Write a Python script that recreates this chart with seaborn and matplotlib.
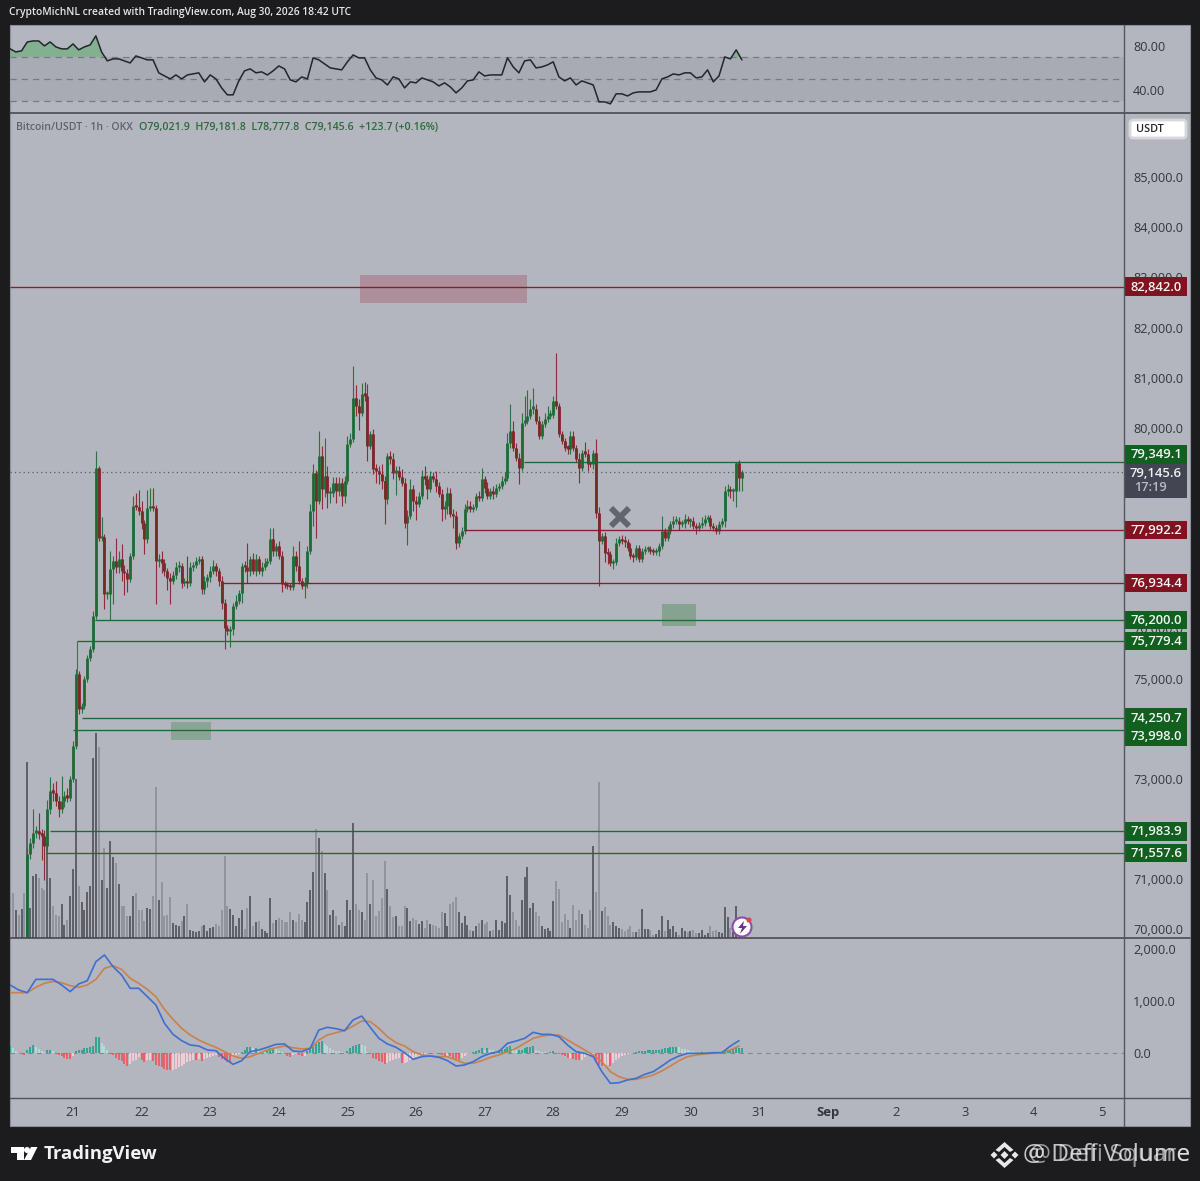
import numpy as np
import pandas as pd
import seaborn as sns
import matplotlib
matplotlib.use('Agg')
import matplotlib.pyplot as plt
from matplotlib.patches import Rectangle, Circle, Polygon, FancyBboxPatch
from matplotlib.transforms import ScaledTranslation

# 1h candles, first visible one starts 16 hours before the 21st
first_candle_hour = -16
close_prices = [
    71540, 71760, 71960, 72000, 71940, 71900, 71700, 72440, 72800, 72760,
    72600, 72440, 72600, 72700, 72660, 73020, 73690, 75120, 74420, 74480,
    75020, 75440, 75620, 76280, 79230, 77830, 77850, 76710, 76720, 77210,
    77370, 77250, 77410, 77170, 77130, 77010, 77470, 78470, 78450, 78370,
    78130, 77810, 78430, 78470, 78430, 77370, 77410, 77330, 77170, 77030,
    76970, 77090, 77250, 77270, 76930, 76970, 76930, 77250, 77290, 77370,
    77410, 76810, 76970, 77050, 77170, 77270, 77170, 76970, 76530, 76030,
    75970, 76010, 76470, 76570, 76730, 77270, 77250, 77170, 77410, 77170,
    77410, 77170, 77250, 77330, 77370, 77810, 77570, 77670, 77470, 76910,
    76890, 76870, 76850, 77470, 77270, 76970, 76870, 76930, 77570, 78370,
    79130, 78570, 79470, 78810, 79070, 78730, 78740, 78930, 78770, 78930,
    78670, 78970, 79710, 79810, 80630, 80470, 80330, 80710, 80670, 79670,
    79910, 79210, 79170, 79110, 78970, 78610, 79470, 79410, 79130, 79170,
    79050, 78930, 78130, 78270, 78810, 78570, 78510, 78670, 79070, 79010,
    78810, 79070, 79010, 78870, 78710, 78410, 78470, 78730, 78310, 78270,
    77730, 77870, 77970, 78410, 78470, 78410, 78450, 78670, 78630, 79010,
    78830, 78670, 78770, 78710, 78830, 78870, 78970, 79030, 79730, 79970,
    79630, 79430, 79230, 80130, 80170, 80270, 80410, 80410, 80170, 79870,
    80110, 80210, 80270, 80290, 80570, 80470, 79910, 79770, 79630, 79610,
    79870, 79630, 79410, 79230, 79530, 79510, 79310, 79300, 79530, 78330,
    77770, 77870, 77530, 77510, 77330, 77350, 77730, 77810, 77770, 77750,
    77630, 77470, 77450, 77630, 77410, 77570, 77610, 77620, 77570, 77550,
    77570, 77670, 77970, 77830, 77970, 78110, 78170, 78180, 78110, 78130,
    78210, 78170, 78170, 78070, 78030, 78090, 78130, 78210, 78230, 78070,
    78030, 77970, 78110, 78170, 78770, 78810, 78770, 78780, 79330, 79021.9,
    79145.6]
open_first = 69500
upper_wicks = [
    120, 100, 480, 100, 360, 100, 120, 180, 260, 140,
    220, 100, 480, 100, 160, 60, 100, 100, 60, 60,
    60, 60, 60, 100, 340, 40, 400, 60, 60, 360,
    100, 460, 160, 300, 120, 80, 60, 200, 260, 340,
    200, 60, 360, 360, 360, 60, 100, 160, 80, 60,
    100, 80, 100, 100, 60, 60, 500, 100, 60, 80,
    60, 60, 100, 60, 100, 120, 60, 60, 100, 80,
    60, 60, 60, 120, 60, 60, 100, 480, 60, 120,
    100, 60, 100, 100, 60, 220, 220, 60, 100, 100,
    60, 60, 60, 200, 100, 500, 60, 120, 100, 140,
    180, 60, 500, 200, 760, 200, 120, 120, 120, 120,
    100, 100, 160, 120, 640, 260, 140, 220, 240, 240,
    60, 100, 100, 100, 200, 100, 60, 100, 120, 100,
    100, 160, 100, 120, 200, 80, 100, 80, 120, 200,
    80, 100, 80, 160, 80, 100, 100, 120, 100, 100,
    100, 60, 80, 100, 120, 100, 60, 60, 100, 220,
    60, 120, 60, 100, 80, 60, 100, 120, 200, 540,
    200, 100, 100, 200, 500, 520, 200, 420, 100, 100,
    60, 120, 200, 100, 100, 960, 60, 60, 60, 60,
    100, 100, 60, 120, 60, 220, 100, 60, 60, 280,
    120, 60, 80, 100, 60, 60, 100, 60, 80, 100,
    60, 100, 60, 60, 60, 60, 60, 60, 60, 60,
    60, 60, 300, 60, 100, 60, 100, 100, 80, 60,
    100, 60, 60, 80, 60, 60, 120, 80, 60, 60,
    60, 60, 60, 60, 100, 100, 60, 60, 20, 60,
    36]
lower_wicks = [
    0, 100, 100, 100, 100, 480, 680, 80, 100, 160,
    100, 160, 80, 120, 80, 60, 60, 60, 100, 80,
    60, 60, 60, 60, 60, 60, 60, 300, 100, 520,
    700, 120, 120, 200, 440, 260, 60, 60, 60, 80,
    120, 300, 80, 60, 60, 860, 120, 200, 100, 240,
    460, 60, 80, 100, 100, 60, 100, 60, 80, 60,
    60, 100, 100, 120, 100, 60, 100, 100, 120, 400,
    60, 300, 100, 60, 60, 200, 100, 240, 100, 60,
    100, 60, 100, 60, 60, 60, 100, 100, 60, 160,
    60, 60, 60, 60, 100, 60, 60, 240, 100, 60,
    300, 740, 60, 400, 160, 300, 200, 80, 240, 100,
    200, 140, 60, 60, 60, 200, 340, 60, 100, 300,
    60, 100, 240, 200, 160, 500, 100, 100, 120, 440,
    60, 60, 100, 440, 60, 200, 320, 60, 60, 120,
    200, 60, 60, 120, 60, 240, 200, 160, 60, 240,
    120, 80, 60, 60, 60, 60, 60, 60, 60, 60,
    100, 60, 60, 100, 60, 60, 60, 60, 60, 100,
    60, 60, 320, 60, 60, 60, 60, 100, 60, 60,
    60, 60, 60, 60, 60, 60, 60, 60, 60, 100,
    100, 60, 60, 300, 60, 60, 140, 60, 100, 100,
    900, 60, 180, 200, 60, 120, 60, 60, 60, 100,
    60, 60, 100, 60, 60, 60, 60, 60, 60, 60,
    60, 100, 60, 60, 60, 60, 80, 60, 120, 60,
    100, 60, 120, 60, 120, 60, 60, 60, 60, 60,
    60, 60, 60, 60, 120, 100, 140, 200, 320, 260,
    244]

# volume, rsi and macd start 6 hours earlier than the visible candles
first_hour = -22
volumes = [
    40, 45, 28, 23, 29, 45, 176, 30, 62, 64, 60,
    50, 48, 95, 60, 32, 23, 22, 34, 13, 18,
    42, 69, 159, 52, 36, 28, 46, 52, 180, 205,
    191, 58, 90, 50, 97, 81, 75, 54, 32, 32,
    22, 22, 42, 45, 28, 28, 17, 30, 29, 42,
    151, 38, 56, 22, 23, 41, 15, 13, 12, 17,
    22, 34, 8, 7, 6, 7, 12, 13, 7, 10,
    11, 14, 12, 28, 82, 32, 29, 23, 12, 20,
    28, 9, 30, 42, 12, 16, 17, 9, 7, 5,
    40, 15, 18, 20, 18, 16, 16, 26, 18, 16,
    24, 18, 16, 36, 48, 66, 109, 100, 87, 65,
    48, 23, 28, 22, 13, 16, 12, 38, 28, 115,
    34, 28, 26, 18, 65, 34, 58, 22, 27, 40,
    77, 49, 32, 21, 22, 12,
    12, 32, 30, 17, 20, 18, 14, 17, 10, 18,
    14, 13, 12, 10, 26, 25, 12, 34, 36, 41,
    26, 15, 22, 13, 8, 7, 12, 15, 18, 14,
    16, 7, 8, 18, 8, 17, 15, 62, 43, 26,
    18, 12, 38, 61, 71, 30, 35, 26, 22, 12,
    9, 10, 7, 37, 57, 49, 16, 24, 18, 10,
    33, 18, 28, 24, 13, 10, 28, 92, 46, 156,
    27, 31, 22, 13, 16, 12, 10, 9, 7, 9,
    12, 6, 6, 9, 29, 9, 9, 8, 3, 4,
    8, 22, 7, 18, 9, 12, 6, 3, 10, 7,
    6, 7, 8, 5, 5, 8, 3, 5, 12, 7,
    8, 6, 5, 31, 21, 10, 6, 32, 8, 5]
early_volume_up = [False, False, True, False, True, False]

# rsi every 2 hours
rsi_values = [
    77.3, 74.5, 75.5, 83.6, 84.5, 84.5, 80, 83.6, 79.1, 77.3,
    77.3, 81.8, 76.4, 79.1, 80.9, 89.1, 74.5, 66.4, 68.2, 68.2,
    66.4, 64.5, 70.9, 69.1, 67.3, 67.3, 55.5, 52.7, 50, 53.6,
    50, 53.6, 54.5, 55.5, 47.3, 53.6, 50, 41.8, 35.5, 35.5,
    48.2, 57.3, 59.1, 55.5, 56.4, 53.6, 57.3, 61.8, 59.1, 49.1,
    47.3, 51.8, 50, 69.1, 67.3, 63.6, 60, 59.1, 58.2, 65.5,
    71.8, 69.1, 69.1, 58.2, 50.9, 49.1, 44.5, 51.8, 50, 41.8,
    47.3, 46.4, 50.9, 49.1, 47.3, 43.6, 46.4, 42.7, 37.3, 41.8,
    48.2, 49.1, 56.4, 52.7, 53.6, 53.6, 53.6, 69.1, 60.9, 55.5,
    66.4, 67.3, 60, 60.9, 62.7, 65.5, 51.8, 48.2, 50.9, 44.5,
    48.2, 46.4, 44.5, 29.1, 29.1, 27.3, 36.4, 36.4, 34.5, 37.3,
    38.2, 38.2, 38.2, 40, 50, 51.8, 54.5, 53.6, 55.5, 55.5,
    50.9, 51.8, 58.2, 47.3, 52.7, 70, 68.2, 76.4, 67.3]

# macd and signal every 3 hours
macd_line = [
    1306, 1210, 1158, 1414, 1414, 1414, 1306, 1178, 1325, 1389,
    1754, 1882, 1658, 1498, 1242, 1242, 1082, 922, 570, 358,
    237, 154, 134, 58, 45, -102, -218, -147, 26, 58,
    109, 166, 173, 38, 26, 90, 442, 493, 467, 429,
    634, 710, 493, 282, 173, 109,
    6, -122, -70, -58, -83, -147, -250, -230, -166, -70,
    -6, 26, 186, 230, 282, 397, 358, 358, 314, 154,
    26, -6, -70, -358, -582, -570, -518, -486, -410, -358,
    -250, -134, -58, -6, -6, -6, 6, 6, 134, 237]
signal_line = [
    1158, 1158, 1158, 1261, 1338, 1376, 1350, 1293, 1261, 1306,
    1414, 1626, 1677, 1606, 1434, 1338, 1222, 1082, 838, 646,
    474, 346, 250, 173, 109, 26, -58, -102, -70, -6,
    58, 102, 134, 102, 77, 90, 250, 346, 390, 429,
    518, 614, 602, 474, 314, 198,
    134, 26, -38, -58, -70, -70, -134, -198, -198, -147,
    -83, -38, 26, 90, 186, 282, 326, 346, 346, 250,
    154, 58, -38, -166, -358, -454, -506, -506, -467, -422,
    -346, -250, -147, -70, -38, -19, -6, 6, 58, 134]

# histogram hourly, in steps of 6.4
hist_steps = [
    20, 15, 7, -1, -4, -6, 10, 18, 24, 18,
    12, 6, 3, 8, 10, 5, -2, -6, -10, -14,
    -17, -19, -8, 7, 8, 10, 14, 15, 17, 20,
    47, 47, 30, 20, 8, -2, -5, -14, -20, -25,
    -32, -38, -33, -25, -20, -12, -20, -28, -22, -20,
    -25, -35, -38, -42, -48, -51, -52, -50, -47, -42,
    -38, -33, -28, -24, -20, -22, -18, -24, -18, -14,
    -12, -8, -5, -12, -18, -22, -28, -30, -12, -6,
    -2, 3, 10, 18, 18, 15, 15, 8, 5, 4,
    8, 15, 15, 12, 5, 2, -2, -8, -12, -6,
    -3, -5, -8, -8, 6, 14, 22, 28, 33, 36,
    28, 22, 15, 10, 6, 5, 3, 1, 6, 14,
    20, 24, 26, 24, 20, 4, -2, -15, -18, -24,
    -28, -32, -30, -25, -20, -18, -14,
    -30, -30, -28, -22, -18, -12, -8, -4, -2, -1,
    -1, 1, 1, -4, -6, -8, -8, -10, -14, -18,
    -20, -16, -10, -4, 1, 4, 6, 8, 14, 8,
    16, 10, 8, 7, 8, 10, 13, 17, 20, 15,
    10, 10, 10, 14, 18, 18, 20, 10, 6, 4,
    3, 1, 2, 5, 1, -2, -5, -10, -15, -15,
    -18, -20, -22, -22, -12, -8, -6, -5, -28, -35,
    -38, -38, -36, -38, -30, -22, -14, -8, -5, -2,
    1, 1, 3, 5, 6, 7, 8, 9, 9, 9,
    10, 11, 14, 15, 17, 17, 18, 17, 13, 12,
    10, 7, 5, 3, 2, 2, 1, 1, 0, -1,
    -1, -1, -1, 3, 8, 10, 11, 14, 15, 16]

# horizontal levels: price, start day, colour name, where the axis tag sits
level_prices = [82842.0, 79349.1, 77992.2, 76934.4, 76200.0, 75779.4, 74250.7, 73998.0, 71983.9, 71557.6]
level_starts = [20.08, 27.57, 26.71, 23.17, 21.32, 21.06, 21.13, 21.0, 20.66, 20.61]
level_kinds = ['r', 'g', 'r', 'r', 'g', 'g', 'g', 'g', 'g', 'g']
tag_prices = [82842.0, 79500, 77992.2, 76934.4, 76200.0, 75779.4, 74250.7, 73880, 71983.9, 71557.6]

price_ticks = list(range(70000, 86000, 1000))
day_ticks = list(range(21, 37))
day_labels = ['21', '22', '23', '24', '25', '26', '27', '28', '29', '30', '31', 'Sep', '2', '3', '4', '5']

PANEL = '#b3b5bf'
DARK = '#1c1c1e'
GREEN = '#1d6a34'
RED = '#8b1c2d'
AXIS_TEXT = '#33363f'

sns.set_theme(style='white')
plt.rcParams['font.family'] = ['Open Sans', 'DejaVu Sans']

W, H = 1200, 1181
fig = plt.figure(figsize=(12, 11.81), dpi=100, facecolor=DARK)

def panel_axes(top, bottom, z=2):
    ax = fig.add_axes([10 / W, 1 - bottom / H, 1114 / W, (bottom - top) / H], zorder=z)
    ax.set_xlim(20.0816, 36.32)
    ax.set_facecolor('none')
    sns.despine(ax=ax, left=True, bottom=True, right=True, top=True)
    ax.yaxis.tick_right()
    ax.tick_params(axis='both', length=0, labelsize=9.1, colors=AXIS_TEXT, pad=6.5)
    ax.set_xticks([])
    return ax

# pixel axes behind everything for the panel background
bg = fig.add_axes([0, 0, 1, 1], zorder=0)
bg.set_xlim(0, W)
bg.set_ylim(H, 0)
bg.axis('off')
bg.add_patch(Rectangle((10, 25), 1180, 1101, fc=PANEL, ec='#8e9099', lw=0.8))

ax_rsi = panel_axes(25, 113, 2)
ax_vol = panel_axes(113, 938, 1)
ax_main = panel_axes(113, 938, 2)
ax_macd = panel_axes(938, 1098, 2)

# rsi
rsi_df = pd.DataFrame({'day': 21 + (first_hour + np.arange(len(rsi_values)) * 2) / 24, 'rsi': rsi_values})
ax_rsi.set_ylim(19, 99)
ax_rsi.axhspan(30, 70, color='#a5a7b1', alpha=0.75, lw=0)
for level in [70, 50, 30]:
    ax_rsi.axhline(level, color='#787a83', lw=0.9, dashes=(5, 4))
ax_rsi.fill_between(rsi_df['day'], 70, rsi_df['rsi'], where=rsi_df['rsi'] >= 70, interpolate=True, color='#6fae7c', alpha=0.7, lw=0)
sns.lineplot(data=rsi_df, x='day', y='rsi', ax=ax_rsi, color='#23262c', lw=1.1, errorbar=None)
ax_rsi.set_xlabel('')
ax_rsi.set_ylabel('')
ax_rsi.set_xlim(20.0816, 36.32)
ax_rsi.set_yticks([80, 40], ['80.00', '40.00'])

# volume in its own scale at the bottom of the main pane
closes = np.array(close_prices, dtype=float)
opens = np.concatenate([[open_first], closes[:-1]])
candle_days = 21 + (first_candle_hour + np.arange(len(closes))) / 24
volume_days = 21 + (first_hour + np.arange(len(volumes))) / 24
volume_up = np.concatenate([early_volume_up, closes >= opens])
ax_vol.set_ylim(0, 825)
ax_vol.set_yticks([])
ax_vol.vlines(volume_days[volume_up], 0, np.array(volumes)[volume_up], color='#47474f', lw=1.1)
ax_vol.vlines(volume_days[~volume_up], 0, np.array(volumes)[~volume_up], color='#888a93', lw=1.1)

# candles
ax_main.set_ylim(69860, 86306)
ax_main.set_yticks(price_ticks, [f'{p:,.1f}' for p in price_ticks])
label_shift = ScaledTranslation(0, 1.5 / 100, fig.dpi_scale_trans)
for lab in ax_main.get_yticklabels():
    lab.set_transform(lab.get_transform() + label_shift)
up = closes >= opens
tops = np.maximum(opens, closes)
bottoms = np.minimum(opens, closes)
highs = tops + np.array(upper_wicks)
lows = bottoms - np.array(lower_wicks)
body_tops = np.maximum(tops, bottoms + 50)
for mask, col in [(up, GREEN), (~up, RED)]:
    ax_main.vlines(candle_days[mask], lows[mask], highs[mask], color=col, lw=0.8, alpha=0.9, zorder=3)
    ax_main.vlines(candle_days[mask], bottoms[mask], body_tops[mask], color=col, lw=2.0, zorder=3)
ax_main.vlines(candle_days[~up], bottoms[~up], body_tops[~up], color='#5f3a1e', lw=1.3, alpha=0.7, zorder=3)

ax_main.axhline(closes[-1], color='#5c5e66', lw=0.9, ls=(0, (1, 2.5)), zorder=2)
for price, start, kind in zip(level_prices, level_starts, level_kinds):
    ax_main.hlines(price, start, 36.32, color=RED if kind == 'r' else GREEN, lw=0.95, zorder=4)
ax_main.vlines(21.06, 75100, 75779.4, color='#4d6b55', lw=0.8, zorder=4)

# marked zones
ax_main.add_patch(Rectangle((25.18, 82520), 2.44, 557, fc='#a8707f', alpha=0.55, lw=0, zorder=2))
ax_main.add_patch(Rectangle((22.43, 73805), 0.58, 359, fc='#6f9a7b', alpha=0.6, lw=0, zorder=2))
ax_main.add_patch(Rectangle((29.59, 76080), 0.49, 440, fc='#6f9a7b', alpha=0.65, lw=0, zorder=2))
ax_main.plot([28.97], [78252], marker='x', ms=13, mew=4.2, color='#63656d', zorder=5)

# price tags on the axis
trans = ax_main.get_yaxis_transform()
def tag(price, text, colour):
    ax_main.add_patch(Rectangle((1 + 1 / 1114, price - 185), 62 / 1114, 370, transform=trans, fc=colour, lw=0, clip_on=False, zorder=7))
    ax_main.text(1 + 32 / 1114, price - 8, text, transform=trans, color='#f4f4f4', ha='center', va='center',
                 fontsize=9.4, fontweight='semibold', clip_on=False, zorder=8)

for price, shown, kind in zip(level_prices, tag_prices, level_kinds):
    tag(shown, f'{price:,.1f}', '#7f1420' if kind == 'r' else '#11601f')

# last price box with countdown
ax_main.add_patch(Rectangle((1 + 1 / 1114, 78635), 62 / 1114, 680, transform=trans, fc='#434652', lw=0, clip_on=False, zorder=6))
ax_main.text(1 + 32 / 1114, 79115, f'{closes[-1]:,.1f}', transform=trans, color='#f0f0f0', ha='center', va='center',
             fontsize=9.4, fontweight='semibold', clip_on=False, zorder=8)
ax_main.text(1 + 10 / 1114, 78835, '17:19', transform=trans, color='#b9bbc3', ha='left', va='center', fontsize=9.2,
             fontweight='semibold', clip_on=False, zorder=8)

# macd pane
ax_macd.set_ylim(-864, 2208)
hist = np.array(hist_steps) * 6.4
hist_days = 21 + (first_hour + np.arange(len(hist))) / 24
rising = np.diff(hist, prepend=hist[0]) >= 0
hist_colors = np.select([(hist >= 0) & rising, hist >= 0, rising], ['#26a08f', '#b3e0da', '#fbd0d6'], '#f0565c')
ax_macd.vlines(hist_days, 0, hist, colors=hist_colors, lw=1.25, zorder=2)
ax_macd.axhline(0, color='#85878f', lw=0.8, dashes=(4, 4), zorder=1)
macd_df = pd.DataFrame({'day': 21 + (first_hour + np.arange(len(macd_line)) * 3) / 24, 'macd': macd_line, 'signal': signal_line})
sns.lineplot(data=macd_df, x='day', y='signal', ax=ax_macd, color='#c9824a', lw=1.2, errorbar=None, zorder=3)
sns.lineplot(data=macd_df, x='day', y='macd', ax=ax_macd, color='#3f6fd0', lw=1.2, errorbar=None, zorder=4)
ax_macd.set_xlabel('')
ax_macd.set_ylabel('')
ax_macd.set_xlim(20.0816, 36.32)
ax_macd.set_yticks([2000, 1000, 0], ['2,000.0', '1,000.0', '0.0'])
ax_macd.set_xticks(day_ticks, day_labels)
ax_macd.tick_params(axis='x', pad=6, labelsize=9.4)
for lab in ax_macd.get_xticklabels():
    if lab.get_text() == 'Sep':
        lab.set_fontweight('bold')

# pixel axes on top for frame, header and footer
top = fig.add_axes([0, 0, 1, 1], zorder=5)
top.set_xlim(0, W)
top.set_ylim(H, 0)
top.axis('off')
top.patch.set_alpha(0)
for y in [113, 938]:
    top.plot([10, 1190], [y, y], color='#3f4148', lw=1.1)
top.plot([10, 1190], [1098, 1098], color='#52545c', lw=1.0)
top.plot([1124, 1124], [25, 1126], color='#55575f', lw=1.0)

top.text(9, 13, 'CryptoMichNL created with TradingView.com, Aug 30, 2026 18:42 UTC', color='#e6e6e6',
         fontsize=7.4, fontweight='semibold', va='center')
top.text(16, 127, 'Bitcoin/USDT · 1h · OKX', color='#5f626c', fontsize=7.6, va='center', fontweight='semibold')
top.text(139, 127, 'O79,021.9  H79,181.8  L78,777.8  C79,145.6  +123.7 (+0.16%)', color='#2c6a3c', fontsize=7.65,
         va='center', fontweight='semibold')

top.add_patch(FancyBboxPatch((1130, 120), 56, 18, boxstyle='round,pad=0,rounding_size=3', fc='white', ec='#d8d8dc', lw=2))
top.text(1136, 129.5, 'USDT', color='#26282e', fontsize=7.8, va='center', fontweight='semibold')

# alert badge
top.add_patch(Circle((742, 927), 9.5, fc='white', ec='#8b4bb0', lw=1.5, zorder=6))
top.add_patch(Polygon([(744, 921), (738, 928), (742, 928), (740, 934), (747, 926), (743, 926)], fc='#6b2f94', lw=0, zorder=7))
top.add_patch(Circle((749, 920), 2.6, fc='#d9484f', lw=0, zorder=8))

# logo and name
top.add_patch(Polygon([(10.5, 1147), (23.5, 1147), (23.5, 1160), (16.5, 1160), (16.5, 1153), (10.5, 1153)], fc='white', lw=0))
top.add_patch(Circle((27, 1150), 3, fc='white', lw=0))
top.add_patch(Polygon([(24, 1160), (31, 1147), (37.5, 1147), (31, 1160)], fc='white', lw=0))
top.text(44, 1154, 'TradingView', color='#f2f2f2', fontsize=13.3, fontweight='bold', va='center')

# watermark, diamond mark and two overlaid layers of text
cx, cy = 1004.5, 1155
marks = [
    [(cx - 9, cy - 5), (cx, cy - 13), (cx + 9, cy - 5), (cx + 5.5, cy - 3), (cx, cy - 8), (cx - 5.5, cy - 3)],
    [(cx - 9, cy + 5), (cx, cy + 13), (cx + 9, cy + 5), (cx + 5.5, cy + 3), (cx, cy + 8), (cx - 5.5, cy + 3)],
    [(cx - 14, cy), (cx - 10.5, cy - 3.5), (cx - 7, cy), (cx - 10.5, cy + 3.5)],
    [(cx + 14, cy), (cx + 10.5, cy - 3.5), (cx + 7, cy), (cx + 10.5, cy + 3.5)],
    [(cx, cy - 4), (cx + 4, cy), (cx, cy + 4), (cx - 4, cy)],
]
for pts in marks:
    top.add_patch(Polygon(pts, fc='#e8e8e8', lw=0))
top.text(1190, 1155, '@ Defi Volume', color='#e2e2e2', fontsize=17.6, ha='right', va='center', alpha=0.85)
top.text(1190, 1155, '@ Defi Square', color='#eeeeee', fontsize=17.6, ha='right', va='center', alpha=0.6)

fig.savefig('out.png', dpi=100, facecolor=DARK)
